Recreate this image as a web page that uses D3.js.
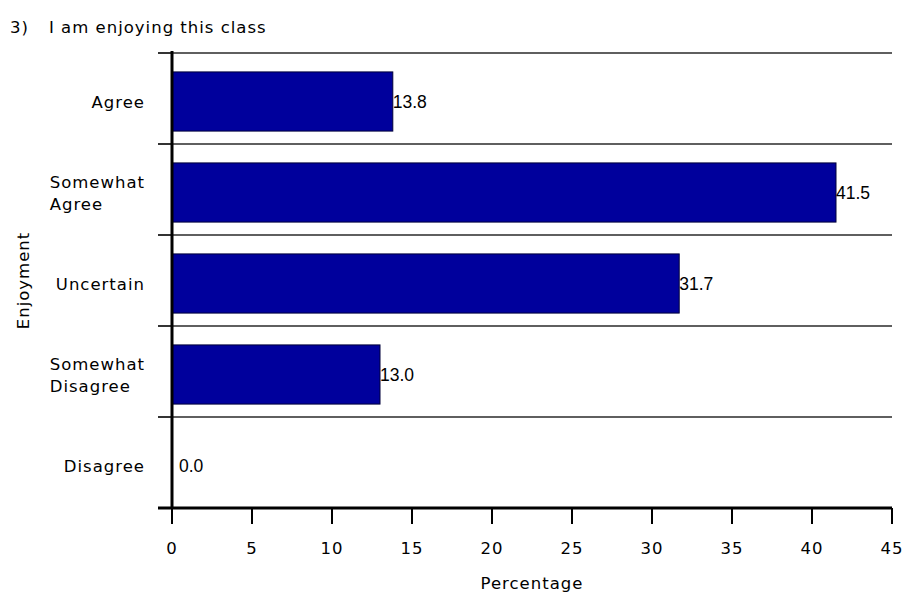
<!DOCTYPE html>
<html>
<head>
<meta charset="utf-8">
<script src="https://cdn.jsdelivr.net/npm/d3@7"></script>
<style>
	body { margin: 0; background: #fff; }
	svg { display: block; }
	.lbl { font-family: "DejaVu Sans", sans-serif; font-size: 16.5px; letter-spacing: 1px; fill: #000; }
	.val { font-family: "Liberation Sans", Arial, sans-serif; font-size: 17.5px; fill: #000; }
</style>
</head>
<body>
<svg id="chart"></svg>
<script>
const categories = [['Agree'], ['Somewhat', 'Agree'], ['Uncertain'], ['Somewhat', 'Disagree'], ['Disagree']];
const values = [13.8, 41.5, 31.7, 13.0, 0.0];
const xTicks = [0, 5, 10, 15, 20, 25, 30, 35, 40, 45];
const titleNum = '3)';
const titleText = 'I am enjoying this class';
const xTitle = 'Percentage';
const yTitle = 'Enjoyment';

const fullWidth = 902;
const fullHeight = 595;
const margin = { top: 53, right: 10, bottom: 87, left: 172 };
const width = fullWidth - margin.left - margin.right;
const height = fullHeight - margin.top - margin.bottom;

const svg = d3.select('#chart').attr('width', fullWidth).attr('height', fullHeight);

const keys = categories.map(c => c.join(' '));
const data = keys.map((k, i) => ({ key: k, lines: categories[i], value: values[i] }));

const x = d3.scaleLinear().domain([0, 45]).range([0, width]);
const y = d3.scaleBand().domain(keys).range([0, height]).padding(0);

// title
svg.append('text').attr('class', 'lbl').attr('x', 10).attr('y', 33).text(titleNum);
svg.append('text').attr('class', 'lbl').attr('x', 49).attr('y', 33).text(titleText);

const g = svg.append('g').attr('transform', `translate(${margin.left},${margin.top})`);

// horizontal separators between categories
g.selectAll('.grid')
	.data(keys)
	.join('line')
	.attr('class', 'grid')
	.attr('x1', 0)
	.attr('x2', width)
	.attr('y1', d => y(d))
	.attr('y2', d => y(d))
	.attr('stroke', '#2a2a2a')
	.attr('stroke-width', 1.6);

// stubs on the left of the category axis
g.selectAll('.ystub')
	.data(keys.concat(['__end']))
	.join('line')
	.attr('class', 'ystub')
	.attr('x1', -14)
	.attr('x2', 0)
	.attr('y1', d => d === '__end' ? height : y(d))
	.attr('y2', d => d === '__end' ? height : y(d))
	.attr('stroke', '#000')
	.attr('stroke-width', 1.6);

// bars
const barH = y.bandwidth() * 0.65;
const barOff = (y.bandwidth() - barH) / 2 + 3;
g.selectAll('.bar')
	.data(data)
	.join('rect')
	.attr('class', 'bar')
	.attr('x', 0)
	.attr('y', d => y(d.key) + barOff)
	.attr('width', d => x(d.value))
	.attr('height', barH)
	.attr('fill', '#00009c')
	.attr('stroke', '#00003a')
	.attr('stroke-width', 1);

// value labels
g.selectAll('.val')
	.data(data)
	.join('text')
	.attr('class', 'val')
	.attr('x', d => x(d.value) + (d.value === 0 ? 7 : 0))
	.attr('y', d => y(d.key) + y.bandwidth() / 2 + 3 + 6)
	.text(d => d.value.toFixed(1));

// category labels (lines left-aligned inside a right-aligned block)
data.forEach(d => {
	const cy = y(d.key) + y.bandwidth() / 2 + 3;
	const t = g.append('text').attr('class', 'lbl');
	const n = d.lines.length;
	d.lines.forEach((line, i) => {
		t.append('tspan')
			.attr('x', 0)
			.attr('y', cy + 6 + (i - (n - 1) / 2) * 22)
			.text(line);
	});
	const maxW = d3.max(t.selectAll('tspan').nodes(), nd => nd.getComputedTextLength());
	t.selectAll('tspan').attr('x', -27 - maxW);
});

// axes lines
g.append('line')
	.attr('x1', 0).attr('x2', 0)
	.attr('y1', -2).attr('y2', height)
	.attr('stroke', '#000').attr('stroke-width', 3);
g.append('line')
	.attr('x1', -14).attr('x2', width)
	.attr('y1', height).attr('y2', height)
	.attr('stroke', '#000').attr('stroke-width', 3);

// x ticks
const xAxisG = g.append('g').attr('transform', `translate(0,${height})`);
xAxisG.selectAll('.xtick')
	.data(xTicks)
	.join('line')
	.attr('class', 'xtick')
	.attr('x1', d => x(d)).attr('x2', d => x(d))
	.attr('y1', 0).attr('y2', 16)
	.attr('stroke', '#000').attr('stroke-width', 2);
xAxisG.selectAll('.xlab')
	.data(xTicks)
	.join('text')
	.attr('class', 'lbl')
	.attr('text-anchor', 'middle')
	.attr('x', d => x(d))
	.attr('y', 46)
	.text(d => d);

// axis titles
g.append('text')
	.attr('class', 'lbl')
	.attr('text-anchor', 'middle')
	.attr('x', width / 2)
	.attr('y', height + 81)
	.text(xTitle);
svg.append('text')
	.attr('class', 'lbl')
	.attr('text-anchor', 'middle')
	.attr('transform', `translate(29,${margin.top + y(keys[2]) + y.bandwidth() / 2}) rotate(-90)`)
	.text(yTitle);
</script>
</body>
</html>
